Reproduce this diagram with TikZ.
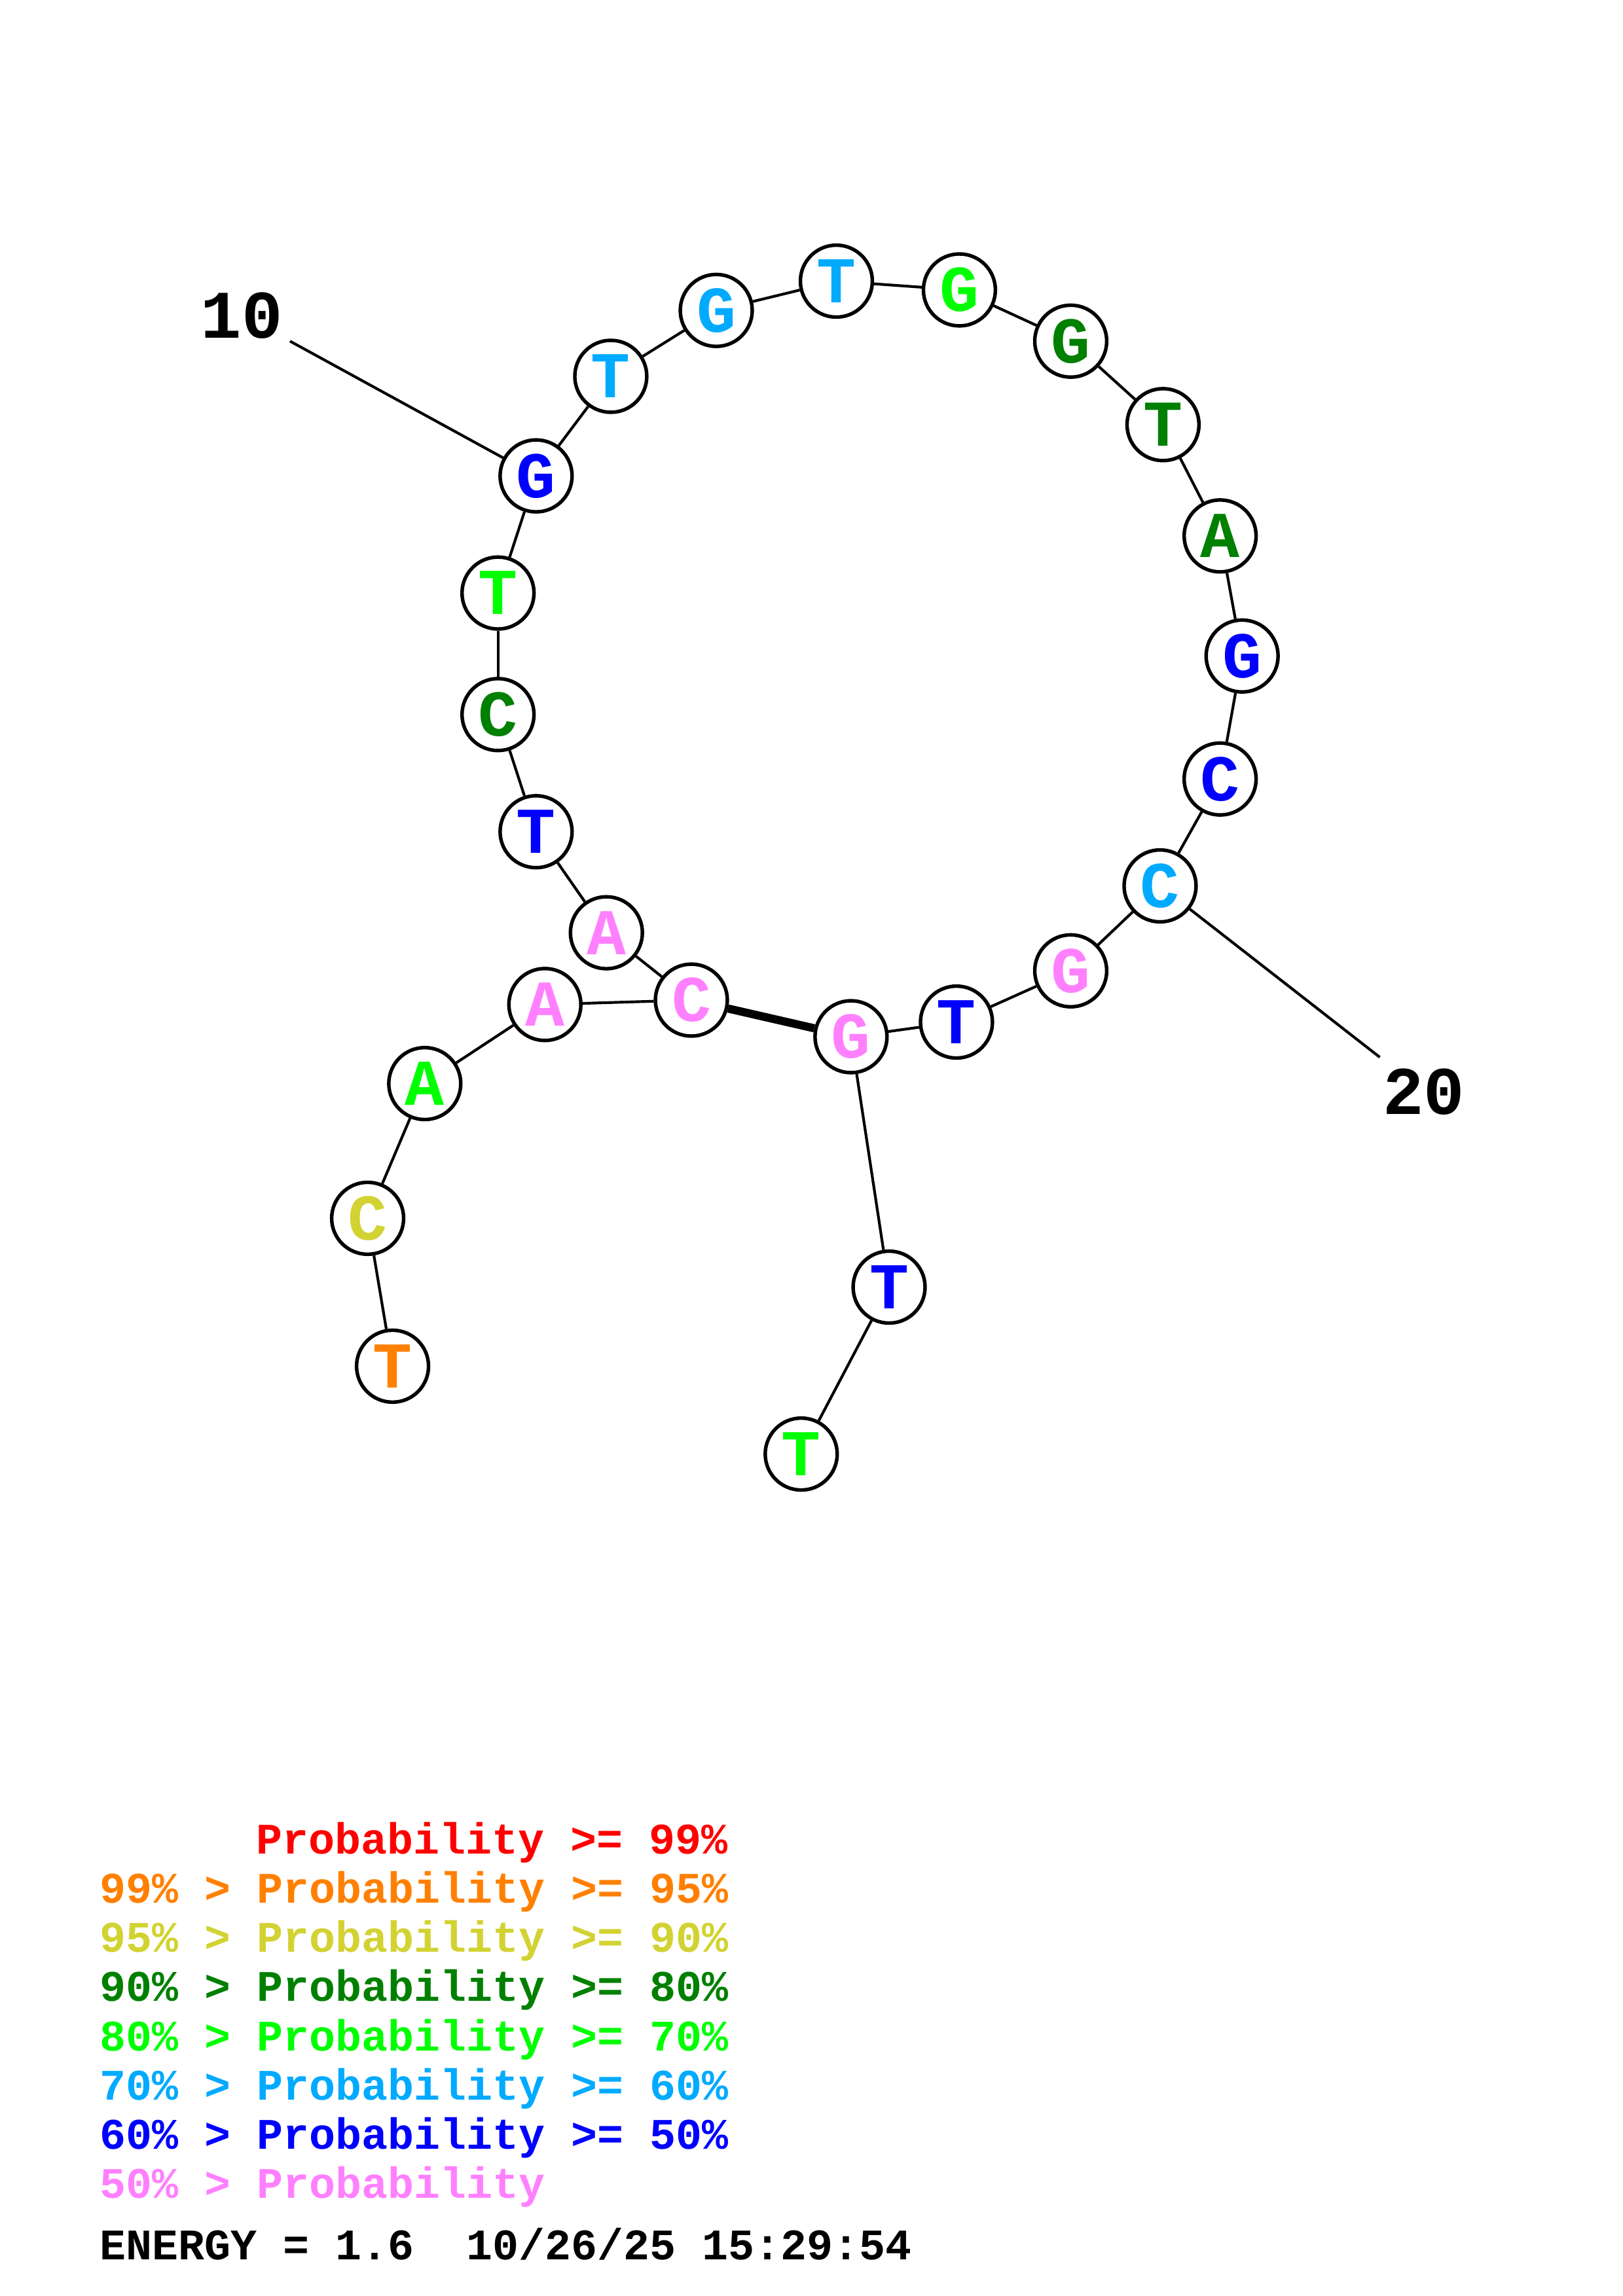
\documentclass[tikz,border=0pt]{standalone}
\usepackage{fontspec}
\newfontfamily\cour{Liberation Mono}
\definecolor{pRed}{RGB}{255,0,0}
\definecolor{pOrange}{RGB}{255,128,0}
\definecolor{pYellow}{RGB}{210,210,50}
\definecolor{pDkGreen}{RGB}{0,128,0}
\definecolor{pGreen}{RGB}{0,255,0}
\definecolor{pSky}{RGB}{0,170,255}
\definecolor{pBlue}{RGB}{0,0,255}
\definecolor{pPink}{RGB}{255,128,255}
\newcommand\ntfont{\cour\bfseries\fontsize{24bp}{24bp}\selectfont}
\newcommand\numfont{\cour\bfseries\fontsize{25bp}{25bp}\selectfont}
\newcommand\lgfont{\cour\bfseries\fontsize{16bp}{19bp}\selectfont\frenchspacing}
\tikzset{
  nt/.style={circle, draw=black, line width=1.3bp, fill=white, minimum size=26.4bp, inner sep=0pt, font=\ntfont},
  bb/.style={line width=1.0bp},
  bpair/.style={line width=3.0bp},
  numlab/.style={anchor=base, inner sep=0pt, font=\numfont},
  legend/.style={anchor=base west, inner sep=0pt, font=\lgfont}
}
\begin{document}
\begin{tikzpicture}[x=0.5373bp, y=-0.5373bp]
\useasboundingbox (0,0) rectangle (1108,1568);
\coordinate (c10) at (198,233);
\coordinate (c20) at (942,722);
% nucleotides
\node[nt, text=pOrange]  (n1)  at (268,933) {T};
\node[nt, text=pYellow]  (n2)  at (251,832) {C};
\node[nt, text=pGreen]   (n3)  at (290,740) {A};
\node[nt, text=pPink]    (n4)  at (372,686) {A};
\node[nt, text=pPink]    (n5)  at (472,683) {C};
\node[nt, text=pPink]    (n6)  at (414,637) {A};
\node[nt, text=pBlue]    (n7)  at (366,568) {T};
\node[nt, text=pDkGreen] (n8)  at (340,488) {C};
\node[nt, text=pGreen]   (n9)  at (340,405) {T};
\node[nt, text=pBlue]    (n10) at (366,325) {G};
\node[nt, text=pSky]     (n11) at (417,257) {T};
\node[nt, text=pSky]     (n12) at (489,212) {G};
\node[nt, text=pSky]     (n13) at (571,192) {T};
\node[nt, text=pGreen]   (n14) at (655,198) {G};
\node[nt, text=pDkGreen] (n15) at (731,233) {G};
\node[nt, text=pDkGreen] (n16) at (794,290) {T};
\node[nt, text=pDkGreen] (n17) at (833,366) {A};
\node[nt, text=pBlue]    (n18) at (848,448) {G};
\node[nt, text=pBlue]    (n19) at (833,532) {C};
\node[nt, text=pSky]     (n20) at (792,605) {C};
\node[nt, text=pPink]    (n21) at (731,663) {G};
\node[nt, text=pBlue]    (n22) at (653,698) {T};
\node[nt, text=pPink]    (n23) at (581,708) {G};
\node[nt, text=pBlue]    (n24) at (607,879) {T};
\node[nt, text=pGreen]   (n25) at (547,993) {T};
% backbone
\foreach \a/\b in {1/2,2/3,3/4,4/5,5/6,6/7,7/8,8/9,9/10,10/11,11/12,12/13,13/14,14/15,15/16,16/17,17/18,18/19,19/20,20/21,21/22,22/23,23/24,24/25}
  \draw[bb] (n\a) -- (n\b);
% base pair
\draw[bpair] (n5) -- (n23);
% number labels
\node[numlab] (l10) at (165,231) {10};
\node[numlab] (l20) at (972,761) {20};
\draw[bb] (c10) -- (n10);
\draw[bb] (c20) -- (n20);
% legend
\node[legend, text=pRed]     (g1) at (174.8,1266) {Probability >= 99\%};
\node[legend, text=pOrange]  (g2) at (68,1299.6) {99\% > Probability >= 95\%};
\node[legend, text=pYellow]  (g3) at (68,1333.2) {95\% > Probability >= 90\%};
\node[legend, text=pDkGreen] (g4) at (68,1366.8) {90\% > Probability >= 80\%};
\node[legend, text=pGreen]   (g5) at (68,1400.4) {80\% > Probability >= 70\%};
\node[legend, text=pSky]     (g6) at (68,1434) {70\% > Probability >= 60\%};
\node[legend, text=pBlue]    (g7) at (68,1467.6) {60\% > Probability >= 50\%};
\node[legend, text=pPink]    (g8) at (68,1501.2) {50\% > Probability};
\node[legend, text=black]    (g9) at (68,1543) {ENERGY = 1.6~~10/26/25 15:29:54};
\end{tikzpicture}
\end{document}
